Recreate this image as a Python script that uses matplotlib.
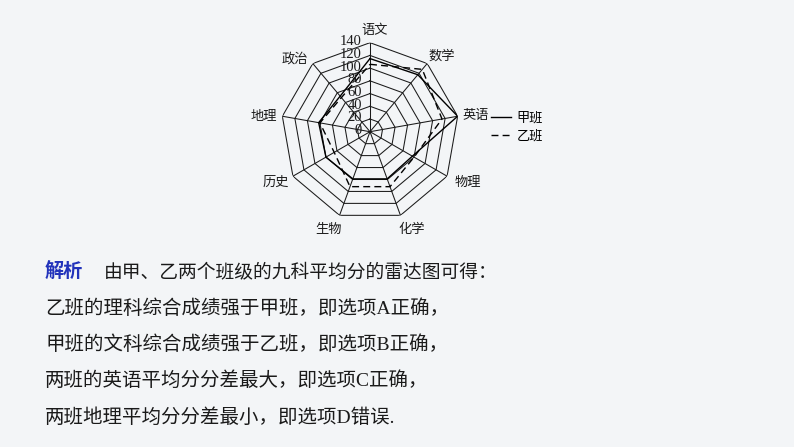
import numpy as np
import matplotlib
matplotlib.use("Agg")
import matplotlib.pyplot as plt

# ── data ──
subjects = ["语文", "数学", "英语", "物理", "化学", "生物", "历史", "地理", "政治"]
class_jia = [115, 117, 140, 77, 79, 79, 80, 82, 73]   # 甲班 (solid)
class_yi = [106, 128, 115, 80, 92, 92, 65, 80, 70]    # 乙班 (dashed)
r_ticks = [0, 20, 40, 60, 80, 100, 120, 140]
series_names = ["甲班", "乙班"]

# label offsets from each outer vertex, in pixels
label_offsets = [(5, 12), (15, 7), (18, 1), (21, -6), (11, -14),
                 (-11, -14), (-17, -6), (-19, 0), (-18, 4)]

text_head = "解析"
text_lines = [
    "由甲、乙两个班级的九科平均分的雷达图可得：",
    "乙班的理科综合成绩强于甲班，即选项A正确，",
    "甲班的文科综合成绩强于乙班，即选项B正确，",
    "两班的英语平均分分差最大，即选项C正确，",
    "两班地理平均分分差最小，即选项D错误.",
]

W, H = 794, 447
bg = "#f3f5f7"
cjk = ["Noto Sans CJK SC", "DejaVu Sans"]
serif_cjk = ["Liberation Serif", "Noto Sans CJK SC"]
plt.rcParams["font.family"] = cjk

fig = plt.figure(figsize=(W / 100, H / 100), dpi=100, facecolor=bg)

# polar axes centred at (370, 131.7) px with radius 89 px
cx, cy, R = 370, 131.7, 89
ax = fig.add_axes([(cx - R) / W, (H - cy - R) / H, 2 * R / W, 2 * R / H],
                  projection="polar")
ax.set_theta_zero_location("N")
ax.set_theta_direction(-1)
ax.set_ylim(0, r_ticks[-1])
ax.axis("off")

n = len(subjects)
theta = np.deg2rad(np.arange(n) * 360 / n)
theta_closed = np.append(theta, theta[0])

grid_kw = dict(color="#1a1a1a", linewidth=0.75)
for lvl in r_ticks[1:]:
    ax.plot(theta_closed, [lvl] * (n + 1), **grid_kw)
for th in theta:
    ax.plot([th, th], [0, r_ticks[-1]], **grid_kw)

ax.plot(theta_closed, class_jia + class_jia[:1], color="black",
        linewidth=1.0, label=series_names[0])
ax.plot(theta_closed, class_yi + class_yi[:1], color="black",
        linewidth=1.0, dashes=(5, 3), label=series_names[1])

# radial tick labels along the 语文 axis
for v in r_ticks:
    ax.annotate(str(v), xy=(0, v), xytext=(-8, 1), textcoords="offset pixels",
                ha="right", va="center", fontsize=10.5, family="Liberation Serif",
                color="#1a1a1a")

for th, name, off in zip(theta, subjects, label_offsets):
    ax.annotate(name, xy=(th, r_ticks[-1]), xytext=off,
                textcoords="offset pixels", ha="center", va="center",
                fontsize=9.5, color="#1a1a1a")

ax.legend(loc="center left", bbox_to_anchor=(491 / W, 1 - 127 / H),
          bbox_transform=fig.transFigure, frameon=False, fontsize=9.5,
          handlelength=1.55, handletextpad=0.4, labelspacing=0.4,
          borderpad=0, borderaxespad=0)

# explanation text under the chart
line_y = [272, 309, 345, 381, 418]
fig.text(45 / W, 1 - line_y[0] / H, text_head, fontsize=13.8,
         fontweight="bold", color="#2233bb", va="center", ha="left")
fig.text(104 / W, 1 - line_y[0] / H, text_lines[0], fontsize=13.5,
         color="#1a1a1a", va="center", ha="left")
for y, line in zip(line_y[1:], text_lines[1:]):
    fig.text(45 / W, 1 - y / H, line, fontsize=14, family=serif_cjk,
             color="#1a1a1a", va="center", ha="left")

fig.savefig("out.png", dpi=100, facecolor=bg)
